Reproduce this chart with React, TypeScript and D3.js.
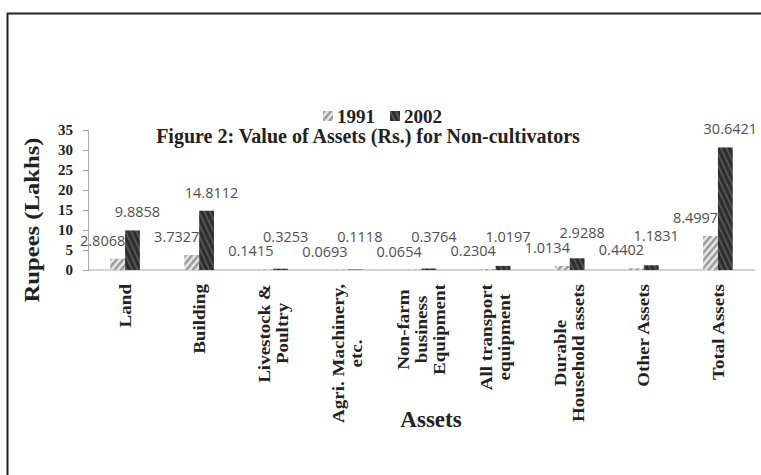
import { useEffect, useRef } from "react";
import * as d3 from "d3";

// data
const categories = [
  "Land",
  "Building",
  "Livestock &\nPoultry",
  "Agri. Machinery,\netc.",
  "Non-farm\nbusiness\nEquipment",
  "All transport\nequipment",
  "Durable\nHousehold assets",
  "Other Assets",
  "Total Assets",
];
const series = ["1991", "2002"];
const values1991 = [2.8068, 3.7327, 0.1415, 0.0693, 0.0654, 0.2304, 1.0134, 0.4402, 8.4997];
const values2002 = [9.8858, 14.8112, 0.3253, 0.1118, 0.3764, 1.0197, 2.9288, 1.1831, 30.6421];
const yTicks = [0, 5, 10, 15, 20, 25, 30, 35];

const W = 761;
const H = 475;
const serif = "'Liberation Serif', 'Times New Roman', serif";
const sans = "'Open Sans', 'Liberation Sans', sans-serif";

export default function App() {
  const ref = useRef<SVGSVGElement>(null);

  useEffect(() => {
    const svg = d3.select(ref.current);
    svg.selectAll("*").remove();

    const margin = { left: 88, right: 6, top: 130, bottom: 205 };
    const x = d3.scaleBand().domain(categories).range([margin.left, W - margin.right]).padding(0);
    const bw = x.bandwidth();
    const xs = d3.scaleBand().domain(series).range([bw * 0.3, bw * 0.7]).padding(0);
    const y = d3.scaleLinear().domain([0, 35]).range([H - margin.bottom, margin.top]);

    // patterns
    const defs = svg.append("defs");
    const p1 = defs
      .append("pattern")
      .attr("id", "hatch91")
      .attr("width", 5)
      .attr("height", 5)
      .attr("patternUnits", "userSpaceOnUse")
      .attr("patternTransform", "rotate(40)");
    p1.append("rect").attr("width", 5).attr("height", 5).attr("fill", "#e8e8e8");
    p1.append("rect").attr("width", 2.5).attr("height", 5).attr("fill", "#9a9a9a");
    const p2 = defs
      .append("pattern")
      .attr("id", "hatch02")
      .attr("width", 5)
      .attr("height", 5)
      .attr("patternUnits", "userSpaceOnUse")
      .attr("patternTransform", "rotate(-25)");
    p2.append("rect").attr("width", 5).attr("height", 5).attr("fill", "#2e2e2e");
    p2.append("rect").attr("width", 1.5).attr("height", 5).attr("fill", "#5e5e5e");

    // frame
    svg.append("line").attr("x1", 7).attr("x2", W).attr("y1", 13.5).attr("y2", 13.5)
      .attr("stroke", "#222").attr("stroke-width", 2);
    svg.append("line").attr("x1", 7.5).attr("x2", 7.5).attr("y1", 13).attr("y2", H)
      .attr("stroke", "#222").attr("stroke-width", 2);

    // y axis
    const yAxis = svg
      .append("g")
      .attr("transform", `translate(${margin.left},0)`)
      .call(d3.axisLeft(y).tickValues(yTicks).tickSize(5).tickPadding(10));
    yAxis.select(".domain").attr("stroke", "#a8a8a8");
    yAxis.selectAll(".tick line").attr("stroke", "#a8a8a8");
    yAxis
      .selectAll(".tick text")
      .attr("font-family", serif)
      .attr("font-weight", "bold")
      .attr("font-size", 15)
      .attr("fill", "#222");

    // baseline
    svg.append("line").attr("x1", margin.left).attr("x2", W - margin.right)
      .attr("y1", y(0)).attr("y2", y(0)).attr("stroke", "#a8a8a8");

    const rows = categories.map((c, i) => ({ c, v1: values1991[i], v2: values2002[i] }));

    const g = svg.append("g");
    g.selectAll(".b91")
      .data(rows)
      .enter()
      .append("rect")
      .attr("x", (d) => x(d.c)! + xs("1991")!)
      .attr("y", (d) => y(d.v1))
      .attr("width", xs.bandwidth())
      .attr("height", (d) => y(0) - y(d.v1))
      .attr("fill", "url(#hatch91)");
    g.selectAll(".b02")
      .data(rows)
      .enter()
      .append("rect")
      .attr("x", (d) => x(d.c)! + xs("2002")!)
      .attr("y", (d) => y(d.v2))
      .attr("width", xs.bandwidth())
      .attr("height", (d) => y(0) - y(d.v2))
      .attr("fill", "url(#hatch02)");

    // data labels: 1991 above its bar, 2002 pushed above the 1991 label when close
    const lab1 = (d: { v1: number }) => y(d.v1) - 18;
    const lab2 = (d: { v1: number; v2: number }) => Math.min(y(d.v2) - 18, lab1(d) - 14.5);
    g.selectAll(".l91")
      .data(rows)
      .enter()
      .append("text")
      .attr("x", (d) => x(d.c)! + xs("1991")! + xs.bandwidth() / 2 - 15)
      .attr("y", (d) => lab1(d) + 5)
      .attr("text-anchor", "middle")
      .attr("font-family", sans)
      .attr("font-size", 14.5)
      .attr("fill", "#505050")
      .text((d) => d.v1.toFixed(4));
    g.selectAll(".l02")
      .data(rows)
      .enter()
      .append("text")
      .attr("x", (d) => x(d.c)! + xs("2002")! + xs.bandwidth() / 2 + 5)
      .attr("y", (d) => lab2(d) + 5)
      .attr("text-anchor", "middle")
      .attr("font-family", sans)
      .attr("font-size", 14.5)
      .attr("fill", "#505050")
      .text((d) => d.v2.toFixed(4));

    // category labels, rotated, lines centred in a block whose top sits under the axis
    const topY = y(0) + 14;
    const lineGap = 18;
    const stretch = 1.12;
    categories.forEach((c) => {
      const lines = c.split("\n");
      const cx = x(c)! + bw / 2;
      const grp = svg.append("g");
      const texts = lines.map((ln) =>
        grp
          .append("text")
          .attr("font-family", serif)
          .attr("font-weight", "bold")
          .attr("font-size", 17)
          .attr("fill", "#222")
          .attr("text-anchor", "middle")
          .attr("dominant-baseline", "central")
          .text(ln)
      );
      const maxLen = (d3.max(texts, (t) => (t.node() as SVGTextElement).getComputedTextLength()) || 0) * stretch;
      const cy = topY + maxLen / 2;
      texts.forEach((t, j) => {
        const lx = cx + (j - (lines.length - 1) / 2) * lineGap;
        t.attr("transform", `translate(${lx},${cy}) rotate(-90) scale(${stretch},1)`);
      });
    });

    // axis titles
    svg.append("text")
      .attr("transform", `translate(31,220) rotate(-90) scale(1.12,1)`)
      .attr("text-anchor", "middle")
      .attr("dominant-baseline", "central")
      .attr("font-family", serif)
      .attr("font-weight", "bold")
      .attr("font-size", 22)
      .attr("fill", "#222")
      .text("Rupees (Lakhs)");
    svg.append("text")
      .attr("x", 431)
      .attr("y", 427)
      .attr("text-anchor", "middle")
      .attr("font-family", serif)
      .attr("font-weight", "bold")
      .attr("font-size", 23)
      .attr("fill", "#222")
      .text("Assets");

    // title
    svg.append("text")
      .attr("x", 368)
      .attr("y", 143)
      .attr("text-anchor", "middle")
      .attr("font-family", serif)
      .attr("font-weight", "bold")
      .attr("font-size", 20)
      .attr("fill", "#222")
      .text("Figure 2: Value of Assets (Rs.) for Non-cultivators");

    // legend
    const leg = svg.append("g").attr("transform", "translate(323,111)");
    leg.append("rect").attr("width", 10).attr("height", 10).attr("fill", "url(#hatch91)");
    leg.append("text").attr("x", 14).attr("y", 12).attr("font-family", serif).attr("font-weight", "bold")
      .attr("font-size", 19).attr("fill", "#222").text("1991");
    leg.append("rect").attr("x", 67).attr("width", 10).attr("height", 10).attr("fill", "url(#hatch02)");
    leg.append("text").attr("x", 81).attr("y", 12).attr("font-family", serif).attr("font-weight", "bold")
      .attr("font-size", 19).attr("fill", "#222").text("2002");
  }, []);

  return (
    <div style={{ position: "absolute", left: 0, top: 0 }}>
      <svg ref={ref} width={W} height={H} style={{ display: "block", background: "#fff" }} />
    </div>
  );
}
